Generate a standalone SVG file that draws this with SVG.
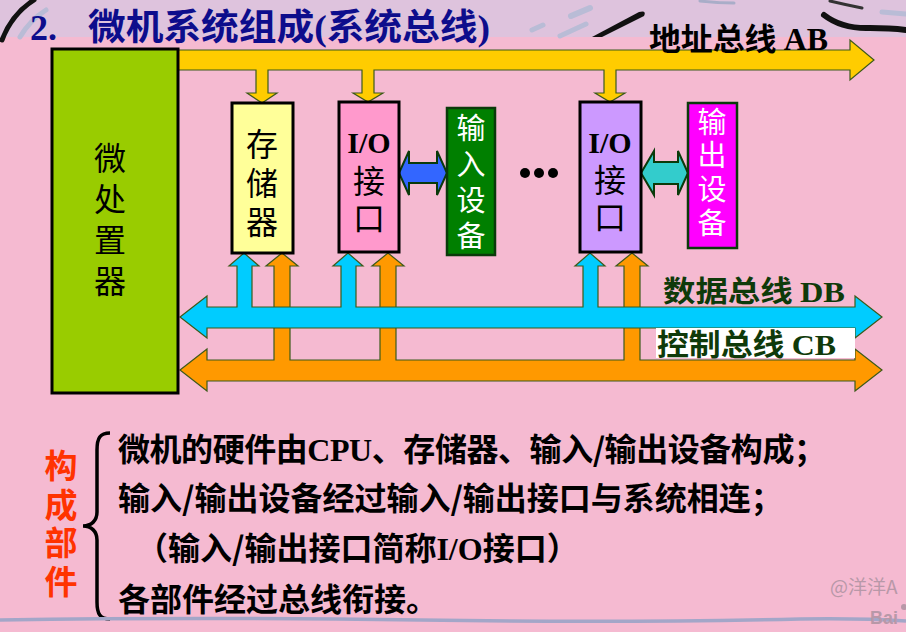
<svg xmlns="http://www.w3.org/2000/svg" width="906" height="632" viewBox="0 0 906 632">
  <style>
    .box { stroke: #000; stroke-width: 3; }
    .dev { stroke: #0a3a0a; stroke-width: 2.5; }
    .bus { stroke: #3d5a1a; stroke-width: 1.2; stroke-linejoin: miter; }
    .link { stroke: #0a3a0a; stroke-width: 2; stroke-linejoin: miter; }
    .cjk { font-family: "Noto Sans CJK SC", "Noto Sans", sans-serif; }
    .vert { writing-mode: vertical-rl; text-orientation: upright; }
    .lbl { font-family: "Noto Sans CJK SC", sans-serif; font-size: 32px; fill: #000; }
    .io { font-family: "Liberation Serif", serif; font-weight: 700; font-size: 30px; fill: #000; text-anchor: middle; }
    .wlbl { font-family: "Noto Sans CJK SC", sans-serif; font-size: 29px; fill: #fff; }
    .body { font-family: "Noto Sans CJK SC", sans-serif; font-weight: 700; font-size: 32px; fill: #000; }
    .ser { font-family: "Liberation Serif", serif; font-weight: 700; }
    .stroke { fill: none; stroke-linecap: round; }
  </style>

  <!-- background -->
  <rect x="0" y="0" width="906" height="632" fill="#F5BAD1"/>
  <rect x="0" y="0" width="906" height="37" fill="#DEC3DD"/>

  <!-- brush decoration in the header band -->
  <g id="header-decor">
    <path class="stroke" d="M20,37 Q30,20 46,10" stroke="#B9BCD6" stroke-width="5"/>
    <path class="stroke" d="M2,40 Q12,14 34,0" stroke="#111" stroke-width="5"/>
    <path class="stroke" d="M532,30 L543,25" stroke="#B9BCD6" stroke-width="5"/>
    <path class="stroke" d="M571,16 L590,8" stroke="#B9BCD6" stroke-width="6"/>
    <path class="stroke" d="M560,36 L586,24" stroke="#B9BCD6" stroke-width="5"/>
    <path d="M592,37 L639,12 Q647,10 644,16 L602,37 Z" fill="#111"/>
    <path class="stroke" d="M700,1 Q718,3 734,3" stroke="#A9ADC8" stroke-width="3"/>
    <path class="stroke" d="M830,1 Q847,5 862,8" stroke="#333" stroke-width="3"/>
    <path class="stroke" d="M824,15 Q842,29 870,28 Q890,28 906,30" stroke="#111" stroke-width="6"/>
    <path class="stroke" d="M882,12 L906,14" stroke="#B9BCD6" stroke-width="5"/>
  </g>

  <!-- title -->
  <g id="title">
    <text x="30" y="40" class="ser" font-size="36" fill="#0D0D8C">2.</text>
    <text x="88" y="40" font-family="Liberation Serif, 'Noto Sans CJK SC', serif" font-weight="700" font-size="36" fill="#0D0D8C" textLength="402" lengthAdjust="spacingAndGlyphs">微机系统组成(系统总线)</text>
  </g>

  <!-- buses and links -->
  <g id="connectors">
    <!-- control bus CB with upward branches -->
    <path id="control-bus" class="bus" fill="#FF9900" d="M180,370 L207,349 L207,360 L274,360 L274,266 L266,266 L282,253 L298,266 L290,266 L290,360 L380,360 L380,266 L372,266 L388,253 L404,266 L396,266 L396,360 L624,360 L624,266 L616,266 L632,253 L648,266 L640,266 L640,360 L855,360 L855,349 L882,370 L855,391 L855,381 L207,381 L207,391 Z"/>
    <!-- data bus DB with upward branches -->
    <path id="data-bus" class="bus" fill="#00CCFF" d="M180,317 L207,296 L207,307 L237,307 L237,266 L229,266 L244,253 L259,266 L252,266 L252,307 L341,307 L341,266 L333,266 L348,253 L363,266 L356,266 L356,307 L583,307 L583,266 L575,266 L590,253 L605,266 L598,266 L598,307 L855,307 L855,296 L882,317 L855,338 L855,328 L207,328 L207,338 Z"/>
    <!-- address bus AB with downward branches -->
    <path id="address-bus" class="bus" fill="#FFCC00" d="M176,50 L850,50 L850,40 L874,60 L850,80 L850,70 L616,70 L616,93 L625,93 L610,102 L595,93 L604,93 L604,70 L374,70 L374,93 L383,93 L368,102 L353,93 L362,93 L362,70 L268,70 L268,93 L277,93 L262,103 L247,93 L256,93 L256,70 L176,70 Z"/>
    <!-- interface to device links -->
    <path id="link-in" class="link" fill="#3366FF" d="M399,173 L409,151 L409,163 L437,163 L437,151 L447,173 L437,195 L437,183 L409,183 L409,195 Z"/>
    <path id="link-out" class="link" fill="#33CCCC" d="M641,173 L654,151 L654,162 L678,162 L678,151 L688,173 L678,195 L678,184 L654,184 L654,195 Z"/>
  </g>

  <!-- bus labels -->
  <g id="bus-labels">
    <text x="649" y="50" class="cjk" font-weight="700" font-size="31" fill="#000" textLength="179" lengthAdjust="spacingAndGlyphs">地址总线 <tspan class="ser">AB</tspan></text>
    <text x="663" y="302" class="cjk" font-weight="700" font-size="29" fill="#0F3A0A" textLength="182" lengthAdjust="spacingAndGlyphs">数据总线 <tspan class="ser">DB</tspan></text>
    <rect x="656" y="328" width="199" height="30" fill="#FFFFFF"/>
    <text x="657" y="355" class="cjk" font-weight="700" font-size="30" fill="#0F3A0A" textLength="179" lengthAdjust="spacingAndGlyphs">控制总线 <tspan class="ser">CB</tspan></text>
  </g>

  <!-- CPU -->
  <g id="cpu">
    <rect class="box" x="52" y="49" width="126" height="344" fill="#99CC00"/>
    <text class="lbl vert" font-size="36" letter-spacing="9" x="110" y="142">微处置器</text>
  </g>

  <!-- memory -->
  <g id="memory">
    <rect class="box" x="232" y="103" width="61" height="150" fill="#FFFF99"/>
    <text class="lbl vert" letter-spacing="7" x="262" y="128">存储器</text>
  </g>

  <!-- I/O interface 1 -->
  <g id="io1">
    <rect class="box" x="339" y="102" width="60" height="150" fill="#FF99CC"/>
    <text class="io" x="369" y="153">I/O</text>
    <text class="lbl vert" letter-spacing="5" x="369" y="165">接口</text>
  </g>

  <!-- input device -->
  <g id="input-device">
    <rect class="dev" x="447" y="108" width="48" height="147" fill="#007F00"/>
    <text class="wlbl vert" letter-spacing="7" x="471" y="113">输入设备</text>
  </g>

  <!-- ellipsis -->
  <g id="ellipsis" fill="#000">
    <circle cx="525" cy="173" r="5"/>
    <circle cx="539" cy="173" r="5"/>
    <circle cx="553" cy="173" r="5"/>
  </g>

  <!-- I/O interface 2 -->
  <g id="io2">
    <rect class="box" x="580" y="102" width="61" height="150" fill="#CC99FF"/>
    <text class="io" x="610" y="153">I/O</text>
    <text class="lbl vert" letter-spacing="5" x="610" y="164">接口</text>
  </g>

  <!-- output device -->
  <g id="output-device">
    <rect class="dev" x="688" y="103" width="49" height="145" fill="#FF00FF"/>
    <text class="wlbl vert" letter-spacing="4.7" x="712" y="107">输出设备</text>
  </g>

  <!-- summary -->
  <g id="summary">
    <text class="vert" font-family="'Noto Sans CJK SC', sans-serif" font-weight="700" font-size="33" fill="#FF3300" letter-spacing="5.7" x="61" y="449">构成部件</text>
    <path d="M110,433 C100,433 97,438 97,450 L97,512 C97,521 91,526 83,526 C91,526 97,531 97,540 L97,602 C97,614 100,619 110,619" fill="none" stroke="#000" stroke-width="3.5"/>
    <text class="body" x="118" y="461" textLength="708" lengthAdjust="spacing">微机的硬件由<tspan class="ser">CPU</tspan>、存储器、输入/输出设备构成；</text>
    <text class="body" x="118" y="510">输入/输出设备经过输入/输出接口与系统相连；</text>
    <text class="body" x="136" y="560">（输入/输出接口简称<tspan class="ser">I/O</tspan>接口）</text>
    <text class="body" x="118" y="611">各部件经过总线衔接。</text>
  </g>

  <!-- footer rule -->
  <path d="M0,620 Q200,617 420,620 Q620,623 800,619 Q860,618 906,621" fill="none" stroke="#A3A6C8" stroke-width="3.5"/>

  <!-- watermark -->
  <g id="watermark" fill="#B898A8">
    <text x="830" y="594" font-family="'Noto Sans CJK SC', sans-serif" font-size="19">@洋洋A</text>
    <text x="870" y="624" font-family="'Liberation Sans', sans-serif" font-weight="700" font-size="18">Bai</text>
    <circle cx="904" cy="607" r="3"/>
  </g>
</svg>
